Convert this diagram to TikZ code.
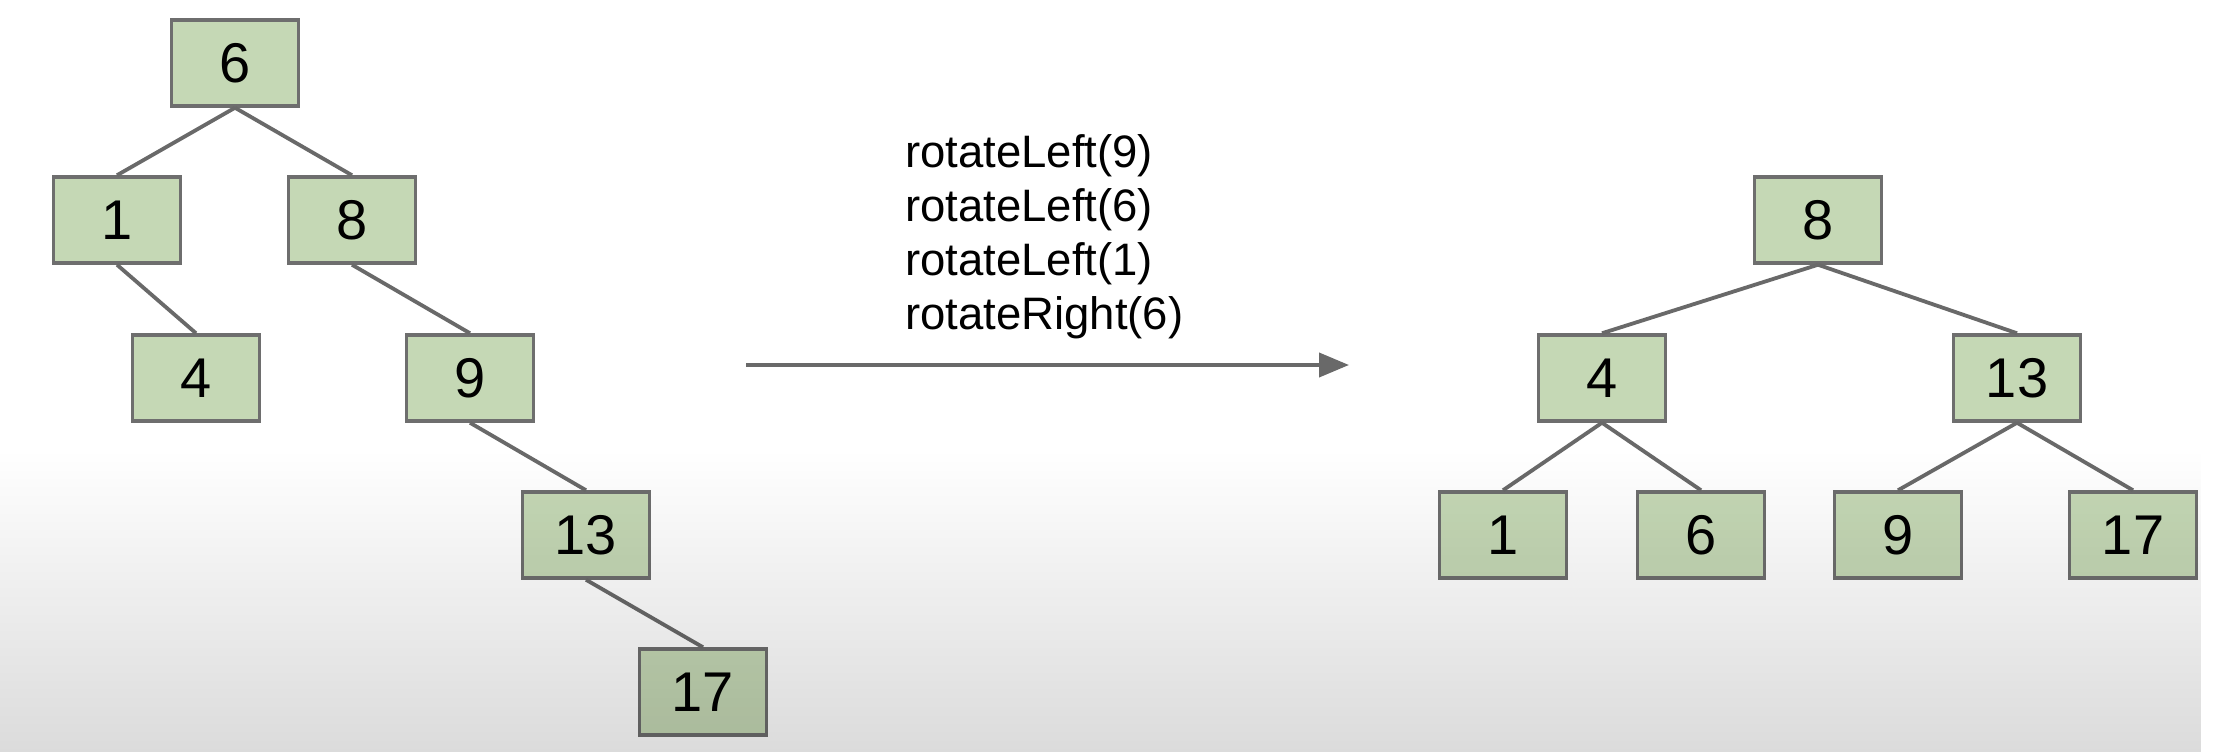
\documentclass[tikz,border=0pt]{standalone}
\usepackage{fontspec}
\setmainfont{Liberation Sans}
\usetikzlibrary{arrows.meta,fadings}
\definecolor{boxfill}{RGB}{197,216,181}
\definecolor{boxline}{RGB}{110,110,110}
\definecolor{edgecol}{RGB}{105,105,105}
\tikzfading[name=fadeup, top color=transparent!100, bottom color=transparent!0]
\tikzset{
  treebox/.style={draw=boxline, fill=boxfill, line width=3.5pt, minimum width=127pt, minimum height=86pt, inner sep=0pt, font=\fontsize{56}{60}\selectfont, text=black},
  treeedge/.style={draw=edgecol, line width=3.8pt},
  oplabel/.style={anchor=base west, inner sep=0pt, font=\fontsize{45.5}{50}\selectfont, text=black}
}
\begin{document}
\begin{tikzpicture}[x=1pt,y=-1pt]
\useasboundingbox (0,0) rectangle (2214,752);
\fill[white] (0,0) rectangle (2214,752);
% left tree
\node[treebox] (L6) at (235,63) {6};
\node[treebox] (L1) at (117,220) {1};
\node[treebox] (L8) at (352,220) {8};
\node[treebox] (L4) at (196,378) {4};
\node[treebox] (L9) at (470,378) {9};
\node[treebox] (L13) at (586,535) {13};
\node[treebox] (L17) at (703,692) {17};
\draw[treeedge] (L6.south) -- (L1.north);
\draw[treeedge] (L6.south) -- (L8.north);
\draw[treeedge] (L1.south) -- (L4.north);
\draw[treeedge] (L8.south) -- (L9.north);
\draw[treeedge] (L9.south) -- (L13.north);
\draw[treeedge] (L13.south) -- (L17.north);
% operations
\node[oplabel] (op1) at (905,167) {rotateLeft(9)};
\node[oplabel] (op2) at (905,221) {rotateLeft(6)};
\node[oplabel] (op3) at (905,275) {rotateLeft(1)};
\node[oplabel] (op4) at (905,329) {rotateRight(6)};
\coordinate (arrA) at (746,365);
\coordinate (arrB) at (1349,365);
\draw[treeedge, line width=4pt, -{Triangle[length=30pt,width=24pt]}] (arrA) -- (arrB);
% right tree
\node[treebox] (R8) at (1818,220) {8};
\node[treebox] (R4) at (1602,378) {4};
\node[treebox] (R13) at (2017,378) {13};
\node[treebox] (R1) at (1503,535) {1};
\node[treebox] (R6) at (1701,535) {6};
\node[treebox] (R9) at (1898,535) {9};
\node[treebox] (R17) at (2133,535) {17};
\draw[treeedge] (R8.south) -- (R4.north);
\draw[treeedge] (R8.south) -- (R13.north);
\draw[treeedge] (R4.south) -- (R1.north);
\draw[treeedge] (R4.south) -- (R6.north);
\draw[treeedge] (R13.south) -- (R9.north);
\draw[treeedge] (R13.south) -- (R17.north);
% bottom shading overlay
\fill[black, opacity=0.14, path fading=fadeup] (0,450) rectangle (2214,752);
\end{tikzpicture}
\end{document}
